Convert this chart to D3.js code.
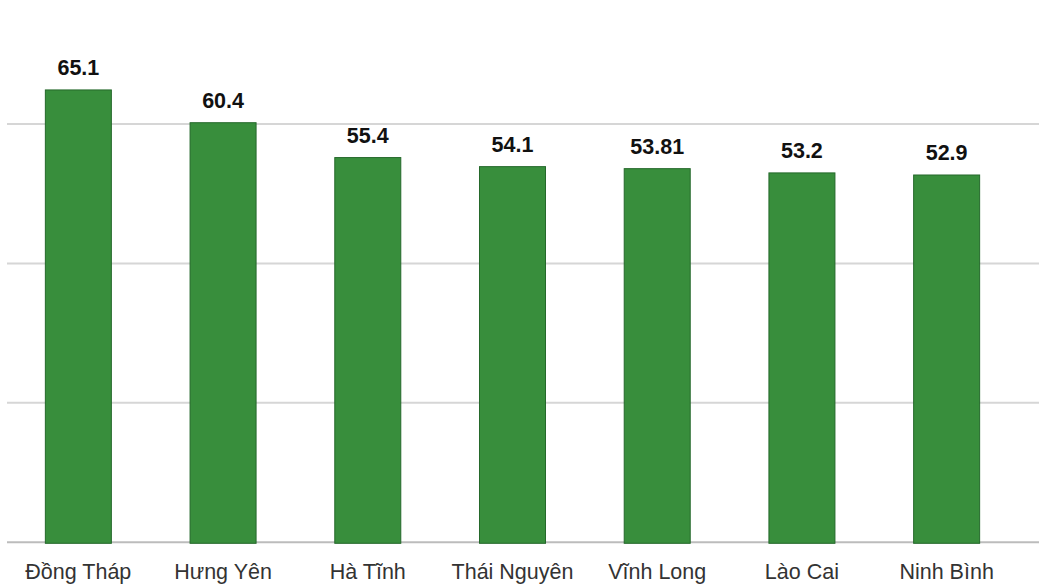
<!DOCTYPE html>
<html><head><meta charset="utf-8">
<script src="https://cdn.jsdelivr.net/npm/d3@7"></script>
<style>html,body{margin:0;padding:0;background:#fff;overflow:hidden}</style>
</head><body>
<svg id="c" width="1039" height="584"></svg>
<script>
const categories = ["Đồng Tháp","Hưng Yên","Hà Tĩnh","Thái Nguyên","Vĩnh Long","Lào Cai","Ninh Bình"];
const values = [65.1, 60.4, 55.4, 54.1, 53.81, 53.2, 52.9];
const valueLabels = ["65.1","60.4","55.4","54.1","53.81","53.2","52.9"];
const gridTicks = [0, 20, 40, 60];

const svg = d3.select("#c");
const x = d3.scaleBand().domain(categories).range([6, 1019]).paddingInner(0.537).paddingOuter(0.2685);
const y = d3.scaleLinear().domain([0, 60]).range([543.3, 125]);

svg.append("g").selectAll("line").data(gridTicks).join("line")
  .attr("x1", 7).attr("x2", 1039)
  .attr("y1", d => y(d) - 1).attr("y2", d => y(d) - 1)
  .attr("stroke", d => d === 0 ? "#bcbcbc" : "#d6d6d6").attr("stroke-width", 2);

svg.append("g").selectAll("rect").data(values).join("rect")
  .attr("x", (d,i) => x(categories[i]) + 0.5)
  .attr("y", d => y(d) + 0.5)
  .attr("width", x.bandwidth() - 1)
  .attr("height", d => y(0) - y(d) - 0.5)
  .attr("fill", "#388e3c").attr("stroke", "#24682a").attr("stroke-width", 1);

svg.append("g").selectAll("text").data(values).join("text")
  .attr("x", (d,i) => x(categories[i]) + x.bandwidth()/2)
  .attr("y", d => y(d) - 14)
  .attr("text-anchor", "middle")
  .attr("font-family", "Liberation Sans, Arial, sans-serif")
  .attr("font-weight", "bold").attr("font-size", "21.5px").attr("fill", "#111")
  .text((d,i) => valueLabels[i]);

svg.append("g").selectAll("text").data(categories).join("text")
  .attr("x", d => x(d) + x.bandwidth()/2)
  .attr("y", 579)
  .attr("text-anchor", "middle")
  .attr("font-family", "Liberation Sans, Arial, sans-serif")
  .attr("font-size", "21.5px").attr("fill", "#333")
  .text(d => d);
</script>
</body></html>
